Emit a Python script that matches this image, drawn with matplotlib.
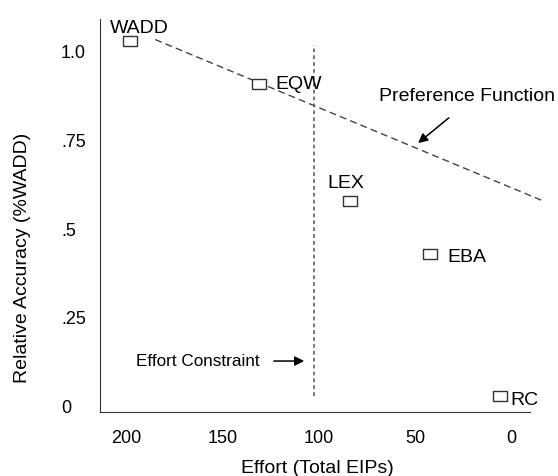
import numpy as np
import matplotlib
matplotlib.use('Agg')
import matplotlib.pyplot as plt

plt.rcParams['font.family'] = ['Liberation Sans', 'DejaVu Sans']

# strategies: effort (total EIPs) and relative accuracy (%WADD)
strategies = ['WADD', 'EQW', 'LEX', 'EBA', 'RC']
effort = [198, 131, 84, 42, 6]
accuracy = [1.03, 0.91, 0.58, 0.43, 0.03]

# preference function (dashed) and effort constraint (dotted)
pref_effort = [185, -16.5]
pref_accuracy = [1.035, 0.58]
constraint_effort = 102.7
constraint_acc = [0.03, 1.02]

xticks = [200, 150, 100, 50, 0]
xticklabels = ['200', '150', '100', '50', '0']
yticks = [0, 0.25, 0.5, 0.75, 1.0]
yticklabels = ['0', '.25', '.5', '.75', '1.0']

fig = plt.figure(figsize=(5.58, 4.76), dpi=100)
ax = fig.add_axes([100/558, 1-412/476, 430/558, 393/476])

ax.set_xlim(213.7, -9.8)
ax.set_ylim(-0.0158, 1.093)

# open rectangle marker (wider than tall)
box = [(-1.4, -1), (1.4, -1), (1.4, 1), (-1.4, 1), (-1.4, -1)]
ax.plot(effort, accuracy, ls='none', marker=box, ms=10.5, mfc='white',
        mec='#333333', mew=1.0, zorder=3)

ax.plot(pref_effort, pref_accuracy, color='#444444', lw=1.0,
        ls=(0, (5, 3)), clip_on=False, zorder=2)
ax.plot([constraint_effort, constraint_effort], constraint_acc, color='#555555',
        lw=1.1, ls=(0, (2.5, 2)), zorder=2)

# point labels
lab_kw = dict(fontsize=14, color='black')
ax.text(208.6, 1.065, 'WADD', ha='left', va='center', **lab_kw)
ax.text(122.8, 0.907, 'EQW', ha='left', va='center', **lab_kw)
ax.text(86, 0.63, 'LEX', ha='center', va='center', **lab_kw)
ax.text(33.4, 0.42, 'EBA', ha='left', va='center', **lab_kw)
ax.text(0.6, 0.018, 'RC', ha='left', va='center', clip_on=False, **lab_kw)

# annotations with arrows
ax.text(22.9, 0.873, 'Preference Function', ha='center', va='center',
        fontsize=14, clip_on=False)
ax.annotate('', xy=(49.5, 0.738), xytext=(31.3, 0.819),
            arrowprops=dict(arrowstyle='-|>', color='black', lw=1.1, mutation_scale=14))
ax.text(195, 0.128, 'Effort Constraint', ha='left', va='center', fontsize=12.3)
ax.annotate('', xy=(106.1, 0.128), xytext=(124.8, 0.128),
            arrowprops=dict(arrowstyle='-|>', color='black', lw=1.1, mutation_scale=14))

ax.set_xticks(xticks)
ax.set_xticklabels(xticklabels)
ax.set_yticks(yticks)
ax.set_yticklabels(yticklabels)
ax.tick_params(axis='x', length=0, pad=13, labelsize=13)
ax.tick_params(axis='y', length=0, pad=28, labelsize=13)
for t in ax.get_yticklabels():
    t.set_ha('left')

ax.spines['top'].set_visible(False)
ax.spines['right'].set_visible(False)
ax.spines['left'].set_color('#333333')
ax.spines['bottom'].set_color('#333333')

ax.set_xlabel('Effort (Total EIPs)', fontsize=14)
ax.set_ylabel('Relative Accuracy (%WADD)', fontsize=14)
ax.xaxis.label.set_va('center')
ax.yaxis.label.set_va('center')
ax.xaxis.set_label_coords(0.506, -0.1425)
ax.yaxis.set_label_coords(-0.181, 0.392)

fig.savefig('out.png', dpi=100)
